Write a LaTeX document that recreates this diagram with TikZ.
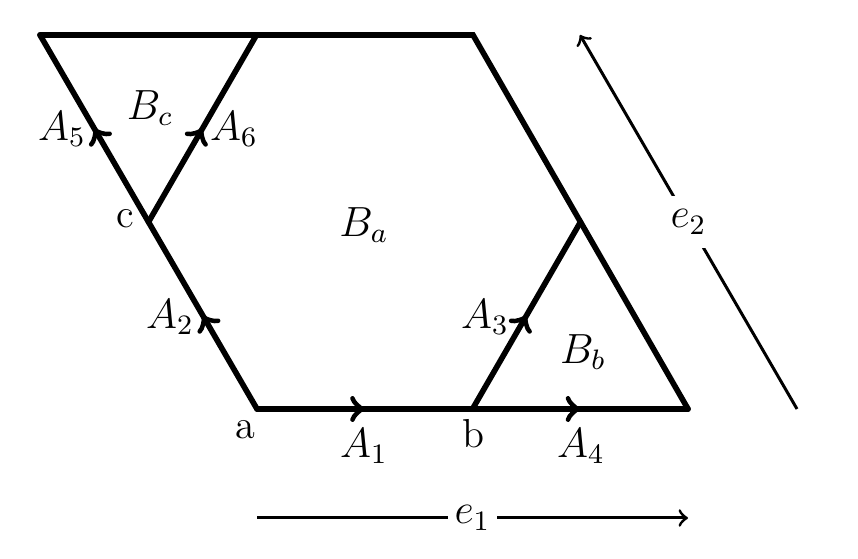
\documentclass[tikz,border=0pt]{standalone}
\usetikzlibrary{decorations.markings}
\begin{document}
\begin{tikzpicture}[x=0.01cm,y=-0.01cm,
  edge/.style={line width=1.6pt,line cap=round,line join=miter},
  midarrow/.style={edge,postaction={decorate},decoration={markings,mark=at position 0.5 with {\arrow{to}}}},
  vec/.style={line width=0.85pt,-to},
  lbl/.style={inner sep=1pt,font=\fontsize{11.5}{13}\selectfont},
  gap/.style={lbl,fill=white,inner sep=3pt}]
\useasboundingbox (0,0) rectangle (858,559);
% vertices
\coordinate (a) at (257,409);
\coordinate (b) at (472.5,409);
\coordinate (br) at (688,409);
\coordinate (tl) at (40,35);
\coordinate (tm) at (256.5,35);
\coordinate (tr) at (473,35);
\coordinate (c) at (148.5,222);
\coordinate (rm) at (580.5,222);
% plain edges
\draw[edge] (tl) -- (tr) -- (br);
% arrowed edges
\draw[midarrow] (a) -- (b);
\draw[midarrow] (b) -- (br);
\draw[midarrow] (a) -- (c);
\draw[midarrow] (b) -- (rm);
\draw[midarrow] (c) -- (tl);
\draw[midarrow] (c) -- (tm);
% labels
\node[lbl] (la) at (245,430) {a};
\node[lbl] (lb) at (473,434) {b};
\node[lbl] (lc) at (125,219) {c};
\node[lbl] (A1) at (364,446) {$A_1$};
\node[lbl] (A4) at (581,446) {$A_4$};
\node[lbl] (A2) at (170,317) {$A_2$};
\node[lbl] (A3) at (485,317) {$A_3$};
\node[lbl] (A5) at (62,129) {$A_5$};
\node[lbl] (A6) at (234,129) {$A_6$};
\node[lbl] (Bc) at (150,108) {$B_c$};
\node[lbl] (Ba) at (364,225) {$B_a$};
\node[lbl] (Bb) at (583,352) {$B_b$};
% lattice vectors
\coordinate (e1s) at (257,518);
\coordinate (e1e) at (688,518);
\coordinate (e2s) at (797,409);
\coordinate (e2e) at (580,35);
\draw[vec] (e1s) -- node[gap,inner sep=2pt] (e1) {$e_1$} (e1e);
\draw[vec] (e2s) -- node[gap,inner sep=4pt] (e2) {$e_2$} (e2e);
\end{tikzpicture}
\end{document}
